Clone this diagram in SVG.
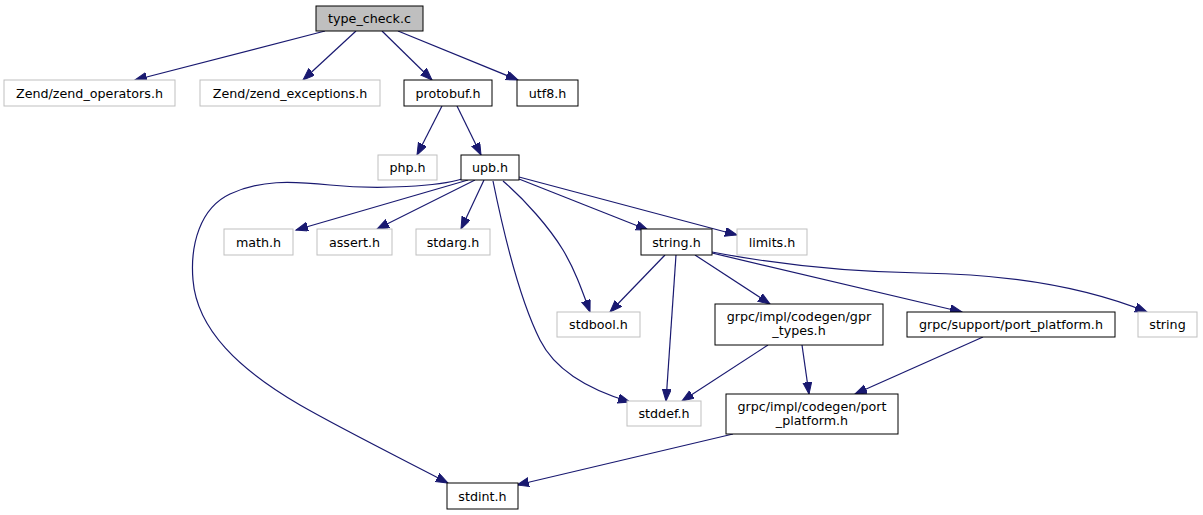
<svg xmlns="http://www.w3.org/2000/svg" width="1203" height="515" viewBox="0 0 1203 515">
<style>
.n rect{fill:#ffffff;stroke:#000000;stroke-width:1}
.g rect{fill:#ffffff;stroke:#bfbfbf;stroke-width:1}
.root rect{fill:#bfbfbf;stroke:#000000;stroke-width:1}
text{font-family:"DejaVu Sans","Liberation Sans",sans-serif;font-size:12.7px;fill:#000000;text-anchor:middle}
.e path{fill:none;stroke:#191970;stroke-width:1.2;marker-end:url(#ah)}
</style>
<defs>
<marker id="ah" markerUnits="userSpaceOnUse" markerWidth="14" markerHeight="11" refX="12" refY="4.5" orient="auto">
<path d="M0,0 L12,4.5 L0,9 z" fill="#191970" stroke="#191970" stroke-width="1"/>
</marker>
</defs>
<rect width="1203" height="515" fill="#ffffff"/>
<g class="e" id="edges">
<path d="M325,31 L135,80"/>
<path d="M356,31 L303,80"/>
<path d="M382,31 L432,80"/>
<path d="M398,31 L518,80"/>
<path d="M442,106 L417,155"/>
<path d="M457,106 L481,155"/>
<path d="M468,180 L296,230"/>
<path d="M475,180 L377,229"/>
<path d="M484,180 L461,229"/>
<path d="M503,181 C525,200 549,227 563,250 C575,270 582,290 590,312"/>
<path d="M493,181 C505,240 520,300 540,340 C555,370 590,390 630,402"/>
<path d="M519,179 L648,230"/>
<path d="M519,177 L737,235"/>
<path d="M462,179 C440,186 380,190 330,185 C290,181 260,180 230,194 C200,208 190,245 193,280 C197,330 240,370 300,405 C340,428 400,458 448,483"/>
<path d="M665,255 L610,312"/>
<path d="M676,255 L666,401"/>
<path d="M695,255 L770,304"/>
<path d="M712,253 L962,312"/>
<path d="M712,252 C780,265 850,272 920,273 C1000,274 1080,285 1147,312"/>
<path d="M768,345 L682,401"/>
<path d="M802,345 L809,394"/>
<path d="M983,337 L855,394"/>
<path d="M733,434 L517,485"/>
</g>
<g id="n_type_check" class="root"><rect x="316" y="6" width="107" height="25"/><text x="369.5" y="23">type_check.c</text></g>
<g id="n_zend_operators" class="g"><rect x="4" y="80" width="171" height="26"/><text x="89.5" y="97.5">Zend/zend_operators.h</text></g>
<g id="n_zend_exceptions" class="g"><rect x="200" y="80" width="180" height="26"/><text x="290" y="97.5">Zend/zend_exceptions.h</text></g>
<g id="n_protobuf" class="n"><rect x="404" y="80" width="88" height="26"/><text x="448" y="97.5">protobuf.h</text></g>
<g id="n_utf8" class="n"><rect x="517" y="80" width="61" height="26"/><text x="547.5" y="97.5">utf8.h</text></g>
<g id="n_php" class="g"><rect x="378" y="155" width="59" height="25"/><text x="407.5" y="172">php.h</text></g>
<g id="n_upb" class="n"><rect x="461" y="155" width="58" height="25"/><text x="490" y="172">upb.h</text></g>
<g id="n_math" class="g"><rect x="224" y="229" width="69" height="26"/><text x="258.5" y="246.5">math.h</text></g>
<g id="n_assert" class="g"><rect x="317" y="229" width="75" height="26"/><text x="354.5" y="246.5">assert.h</text></g>
<g id="n_stdarg" class="g"><rect x="416" y="229" width="74" height="26"/><text x="453" y="246.5">stdarg.h</text></g>
<g id="n_string_h" class="n"><rect x="641" y="229" width="71" height="26"/><text x="676.5" y="246.5">string.h</text></g>
<g id="n_limits" class="g"><rect x="737" y="229" width="70" height="26"/><text x="772" y="246.5">limits.h</text></g>
<g id="n_stdbool" class="g"><rect x="557" y="312" width="83" height="25"/><text x="598.5" y="329">stdbool.h</text></g>
<g id="n_gpr_types" class="n"><rect x="715" y="304" width="168" height="41"/><text x="799" y="321">grpc/impl/codegen/gpr</text><text x="799" y="335">_types.h</text></g>
<g id="n_support_port_platform" class="n"><rect x="907" y="312" width="208" height="25"/><text x="1011" y="329">grpc/support/port_platform.h</text></g>
<g id="n_string" class="g"><rect x="1138" y="312" width="59" height="25"/><text x="1167.5" y="329">string</text></g>
<g id="n_stddef" class="g"><rect x="627" y="401" width="74" height="25"/><text x="664" y="418">stddef.h</text></g>
<g id="n_impl_port_platform" class="n"><rect x="726" y="394" width="172" height="40"/><text x="812" y="411">grpc/impl/codegen/port</text><text x="812" y="425">_platform.h</text></g>
<g id="n_stdint" class="n"><rect x="447" y="483" width="71" height="26"/><text x="482.5" y="500.5">stdint.h</text></g>
</svg>
